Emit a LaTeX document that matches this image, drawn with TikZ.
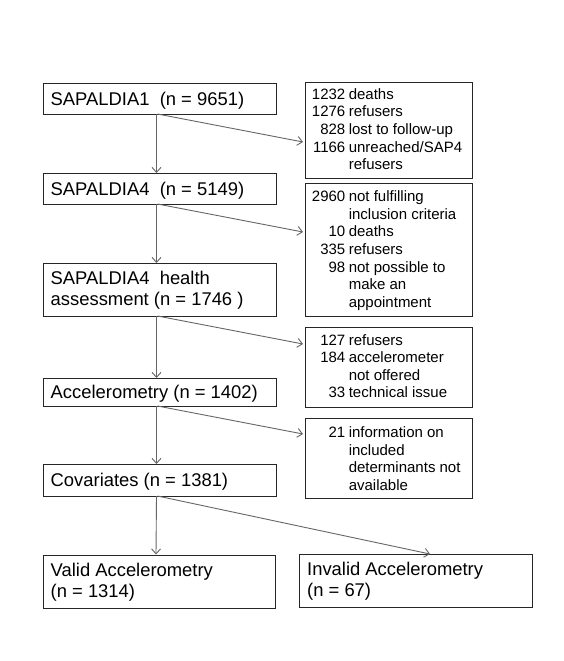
\documentclass[tikz,border=0pt]{standalone}
\usepackage{fontspec}
\setmainfont{Liberation Sans}
\usetikzlibrary{arrows.meta}
\newcommand\nm[1]{\makebox[33.4pt][r]{#1}}
\tikzset{
  box/.style={draw=black!85, line width=0.9pt, inner sep=0pt, outer sep=0pt, fill=white},
  lbox/.style={box, minimum width=233pt},
  rbox/.style={box, minimum width=167pt},
  ltext/.style={anchor=base west, inner sep=0pt, font=\fontsize{18.4pt}{21.6pt}\selectfont},
  rtext/.style={anchor=base west, inner sep=0pt, font=\fontsize{15pt}{17.6pt}\selectfont},
  arr/.style={draw=black!60, line width=0.9pt, -{Straight Barb[length=5pt,width=9pt]}},
}
\begin{document}
\begin{tikzpicture}[x=1pt,y=-1pt]
\useasboundingbox[fill=white] (0,0) rectangle (564,661);
% left boxes
\node[lbox, minimum height=31pt] (b1) at (159.5,98.5) {};
\node[lbox, minimum height=31pt] (b2) at (159.5,188.5) {};
\node[lbox, minimum height=53pt] (b3) at (159.5,289.5) {};
\node[lbox, minimum height=28pt] (b4) at (159.5,392) {};
\node[lbox, minimum height=32pt] (b5) at (159.5,480) {};
\node[box, minimum width=232pt, minimum height=53pt] (b6) at (159,581.5) {};
\node[lbox, minimum height=53pt] (b7) at (415.5,580.5) {};
% right boxes
\node[rbox, minimum height=96pt] (r1) at (388.5,130) {};
\node[rbox, minimum height=133pt] (r2) at (388.5,249.5) {};
\node[rbox, minimum height=80pt] (r3) at (388.5,367) {};
\node[rbox, minimum height=80pt] (r4) at (388.5,458) {};
% left texts
\node[ltext] (t1) at (50.5,105) {SAPALDIA1\ \ (n = 9651)};
\node[ltext] (t2) at (50.5,195) {SAPALDIA4\ \ (n = 5149)};
\node[ltext] (t3) at (50.5,284.3) {\begin{tabular}[t]{@{}l@{}}SAPALDIA4\ \ health\\assessment (n = 1746 )\end{tabular}};
\node[ltext] (t4) at (50.5,398.3) {Accelerometry (n = 1402)};
\node[ltext] (t5) at (50.5,486) {Covariates (n = 1381)};
\node[ltext] (t6) at (50.5,576) {\begin{tabular}[t]{@{}l@{}}Valid Accelerometry\\(n = 1314)\end{tabular}};
\node[ltext] (t7) at (307,575) {\begin{tabular}[t]{@{}l@{}}Invalid Accelerometry\\(n = 67)\end{tabular}};
% right texts
\node[rtext] (s1) at (311.7,99.3) {\begin{tabular}[t]{@{}l@{\hspace{3.5pt}}l@{}}
\nm{1232} & deaths\\ \nm{1276} & refusers\\ \nm{828} & lost to follow-up\\
\nm{1166} & unreached/SAP4\\ & refusers\end{tabular}};
\node[rtext] (s2) at (311.7,201.7) {\begin{tabular}[t]{@{}l@{\hspace{3.5pt}}l@{}}
\nm{2960} & not fulfilling\\ & inclusion criteria\\ \nm{10} & deaths\\
\nm{335} & refusers\\ \nm{98} & not possible to\\ & make an\\ & appointment\end{tabular}};
\node[rtext] (s3) at (311.7,345) {\begin{tabular}[t]{@{}l@{\hspace{3.5pt}}l@{}}
\nm{127} & refusers\\ \nm{184} & accelerometer\\ & not offered\\ \nm{33} & technical issue\end{tabular}};
\node[rtext] (s4) at (311.7,437.7) {\begin{tabular}[t]{@{}l@{\hspace{3.5pt}}l@{}}
\nm{21} & information on\\ & included\\ & determinants not\\ & available\end{tabular}};
% vertical arrows
\draw[arr] ([xshift=-3pt]b1.south) -- ([xshift=-3pt]b2.north);
\draw[arr] ([xshift=-3pt]b2.south) -- ([xshift=-3pt]b3.north);
\draw[arr] ([xshift=-3pt]b3.south) -- ([xshift=-3pt]b4.north);
\draw[arr] ([xshift=-3pt]b4.south) -- ([xshift=-3pt]b5.north);
\draw[arr] ([xshift=-3pt]b5.south) -- ([xshift=-3pt,yshift=0.5pt]b6.north);
% diagonal arrows
\draw[arr] ([xshift=-2pt]b1.south) -- ([xshift=-2pt,yshift=-12pt]r1.west);
\draw[arr] ([xshift=-2pt]b2.south) -- ([xshift=-2pt,yshift=17.5pt]r2.west);
\draw[arr] ([xshift=-2pt]b3.south) -- ([xshift=-2pt,yshift=23pt]r3.west);
\draw[arr] ([xshift=-2pt]b4.south) -- ([xshift=-2pt,yshift=24pt]r4.west);
\draw[arr] ([xshift=-2pt]b5.south) -- ([xshift=14.5pt]b7.north);
\end{tikzpicture}
\end{document}
